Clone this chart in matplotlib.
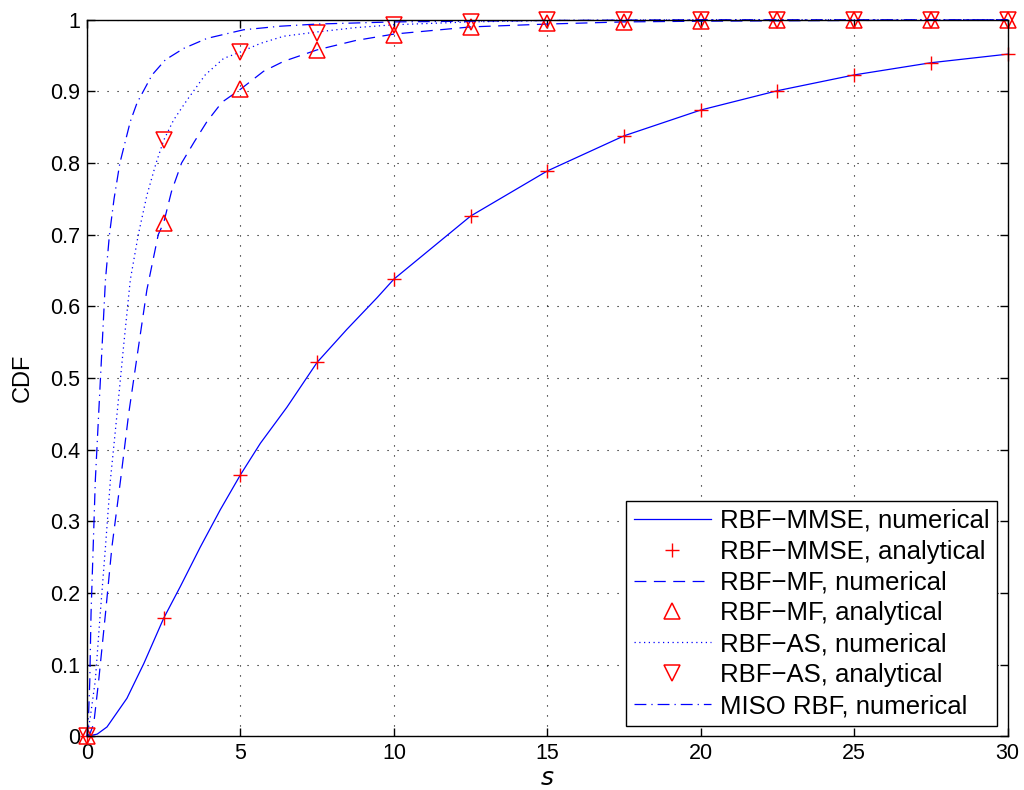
import numpy as np
import matplotlib
matplotlib.use('Agg')
from matplotlib import pyplot as plt

plt.rcParams['font.family'] = ['Liberation Sans', 'DejaVu Sans']
plt.rcParams['font.size'] = 15.5

s_mmse = [0, 0.33, 0.65, 1.3, 1.85, 2.5, 3.04, 3.69, 4.34, 5, 5.65, 6.51, 7.5, 8.47, 9.45, 10,
          12.5, 15, 17.5, 20, 22.5, 25, 27.5, 30]
cdf_mmse = [0, 0.003, 0.013, 0.053, 0.1015, 0.165, 0.209, 0.264, 0.316, 0.365, 0.409, 0.459, 0.522, 0.568, 0.612, 0.638,
            0.726, 0.789, 0.838, 0.874, 0.901, 0.923, 0.940, 0.952]

s_mf = [0, 0.1, 0.22, 0.38, 0.6, 0.81, 1.09, 1.36, 1.63, 1.95, 2.32, 2.5, 2.75, 3.08, 3.5, 3.91, 4.4, 5,
        5.75, 6.41, 7.5, 8.75, 10, 12.5, 15, 17.5, 20, 25, 30]
cdf_mf = [0, 0.004, 0.018, 0.078, 0.171, 0.264, 0.357, 0.451, 0.53, 0.623, 0.7, 0.717, 0.76, 0.8, 0.83, 0.858, 0.885, 0.903,
          0.928, 0.942, 0.958, 0.971, 0.98, 0.99, 0.994, 0.997, 0.998, 0.999, 1.0]

s_as = [0, 0.1, 0.27, 0.43, 0.6, 0.76, 0.98, 1.19, 1.41, 1.67, 1.95, 2.25, 2.5, 2.82, 3.26, 3.85, 4.45, 5,
        5.65, 6.41, 7.5, 8.75, 10, 12.5, 15, 20, 30]
cdf_as = [0, 0.025, 0.078, 0.171, 0.264, 0.357, 0.451, 0.544, 0.637, 0.7, 0.755, 0.8, 0.832, 0.86, 0.888, 0.923, 0.946, 0.955,
          0.967, 0.977, 0.983, 0.989, 0.993, 0.997, 0.999, 1.0, 1.0]

s_miso = [0, 0.05, 0.09, 0.13, 0.2, 0.27, 0.38, 0.49, 0.6, 0.73, 0.88, 1.07, 1.41, 1.63, 2.12, 2.55, 3.15, 3.91,
          5.1, 6.3, 7.5, 10, 12.5, 15, 20, 30]
cdf_miso = [0, 0.03, 0.078, 0.171, 0.264, 0.357, 0.451, 0.544, 0.637, 0.7, 0.75, 0.8, 0.858, 0.884, 0.923, 0.944, 0.96, 0.974,
            0.986, 0.991, 0.994, 0.997, 0.998, 0.999, 1.0, 1.0]

# analytische Werte
s_ana = [0, 2.5, 5, 7.5, 10, 12.5, 15, 17.5, 20, 22.5, 25, 27.5, 30]
ana_mmse = [0, 0.165, 0.365, 0.522, 0.638, 0.726, 0.789, 0.838, 0.874, 0.901, 0.923, 0.940, 0.952]
ana_mf = [0, 0.717, 0.903, 0.958, 0.979, 0.990, 0.995, 0.997, 0.998, 0.999, 0.9995, 1.0, 1.0]
ana_as = [0, 0.832, 0.955, 0.982, 0.992, 0.997, 0.999, 0.9995, 1.0, 1.0, 1.0, 1.0, 1.0]

x_ticks = [0, 5, 10, 15, 20, 25, 30]
y_ticks = [0, 0.1, 0.2, 0.3, 0.4, 0.5, 0.6, 0.7, 0.8, 0.9, 1]
y_ticklabels = ['0', '0.1', '0.2', '0.3', '0.4', '0.5', '0.6', '0.7', '0.8', '0.9', '1']

fig = plt.figure(figsize=(10.24, 7.9), dpi=100)
ax = fig.add_axes([0.085, 0.068, 0.899, 0.907])

lw = 0.9
ax.plot(s_mmse, cdf_mmse, '-', color='b', linewidth=lw, label='RBF\u2212MMSE, numerical')
ax.plot(s_ana, ana_mmse, '+', color='r', markersize=9.5, markeredgewidth=1.0, linestyle='none',
        label='RBF\u2212MMSE, analytical')
ax.plot(s_mf, cdf_mf, color='b', linewidth=lw, linestyle=(0, (9.5, 6)), label='RBF\u2212MF, numerical')
ax.plot(s_ana, ana_mf, '^', color='r', markersize=11, markerfacecolor='none', markeredgewidth=1.1, linestyle='none',
        label='RBF\u2212MF, analytical')
ax.plot(s_as, cdf_as, color='b', linewidth=lw, linestyle=(0, (1, 2.8)), label='RBF\u2212AS, numerical')
ax.plot(s_ana, ana_as, 'v', color='r', markersize=11, markerfacecolor='none', markeredgewidth=1.1, linestyle='none',
        label='RBF\u2212AS, analytical')
ax.plot(s_miso, cdf_miso, color='b', linewidth=lw, linestyle=(0, (9.5, 4, 1, 4)), label='MISO RBF, numerical')

ax.set_xlim(0, 30)
ax.set_ylim(0, 1)
ax.set_xticks(x_ticks)
ax.set_yticks(y_ticks)
ax.set_yticklabels(y_ticklabels)
ax.tick_params(direction='in', top=True, right=True, length=6, width=1.0, labelsize=15.5, pad=5)
ax.grid(True, color='k', linestyle=(0, (1, 8)), linewidth=0.8)
for sp in ax.spines.values():
    sp.set_linewidth(1.0)
    sp.set_zorder(5)

ax.set_xlabel('$s$', fontsize=18, labelpad=1)
ax.set_ylabel('CDF', fontsize=17, labelpad=12)

leg = ax.legend(loc='lower right', fontsize=18.5, frameon=True, fancybox=False, framealpha=1,
                edgecolor='k', handlelength=3.0, borderaxespad=0.4, labelspacing=0.27,
                handletextpad=0.35, borderpad=0.3)
leg.get_frame().set_linewidth(1.0)

for line in ax.lines:
    line.set_clip_on(False)

fig.savefig('out.png', dpi=100)
